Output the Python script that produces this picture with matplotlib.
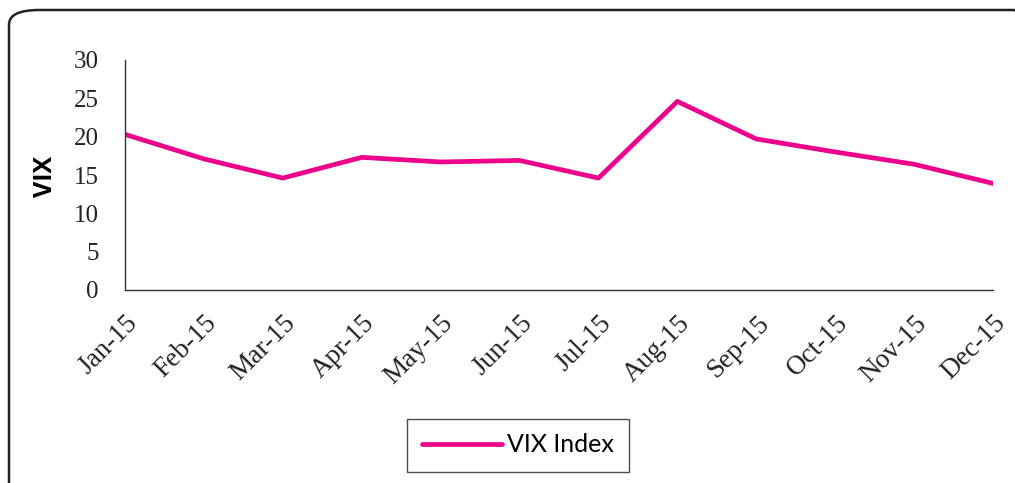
import matplotlib.pyplot as plt
from matplotlib.patches import FancyBboxPatch

months = ["Jan-15", "Feb-15", "Mar-15", "Apr-15", "May-15", "Jun-15",
          "Jul-15", "Aug-15", "Sep-15", "Oct-15", "Nov-15", "Dec-15"]
vix = [20.3, 17.1, 14.6, 17.3, 16.7, 16.9, 14.6, 24.6, 19.7, 18.0, 16.4, 13.9]
yticks = [0, 5, 10, 15, 20, 25, 30]

W, H = 1015, 483
fig = plt.figure(figsize=(W / 100, H / 100), dpi=100)

# outer rounded frame (runs off the right/bottom edge)
frame = FancyBboxPatch((9 / W, -30 / H), (W + 20) / W, (H + 20) / H,
                       boxstyle="round,pad=0,rounding_size=0.03",
                       transform=fig.transFigure, fill=False,
                       edgecolor="#222222", linewidth=1.8, zorder=0)
fig.patches.append(frame)

ax = fig.add_axes([125 / W, (H - 290) / H, (993 - 125) / W, (290 - 60) / H])
x = list(range(len(months)))
line, = ax.plot(x, vix, color="#EC008C", linewidth=3.4, solid_capstyle="round",
                label="VIX Index")

ax.set_xlim(0, len(months) - 1)
ax.set_ylim(0, 30)
ax.set_yticks(yticks)
ax.set_xticks(x)
ax.set_xticklabels(months, rotation=45, ha="right", rotation_mode="anchor",
                   family="Liberation Serif", fontsize=19.5)
ax.set_yticklabels([str(v) for v in yticks], family="Liberation Serif", fontsize=18)
ax.tick_params(length=0, pad=19, colors="#222222")
ax.tick_params(axis="x", pad=15)
for s in ["top", "right"]:
    ax.spines[s].set_visible(False)
for s in ["left", "bottom"]:
    ax.spines[s].set_color("#333333")
    ax.spines[s].set_linewidth(1.0)

fig.text(45 / W, (H - 176) / H, "VIX", rotation=90, ha="center", va="center",
         family="Open Sans", fontweight="bold", fontsize=18)

leg = fig.legend(handles=[line], loc="center", bbox_to_anchor=(518 / W, (H - 445) / H),
                 prop={"family": "Lato", "size": 18}, frameon=True,
                 fancybox=False, handlelength=3.2, borderpad=0.6, handletextpad=0.2,
                 borderaxespad=0)
leg.get_frame().set_edgecolor("#222222")
leg.get_frame().set_linewidth(1.0)

fig.savefig("out.png", dpi=100)
